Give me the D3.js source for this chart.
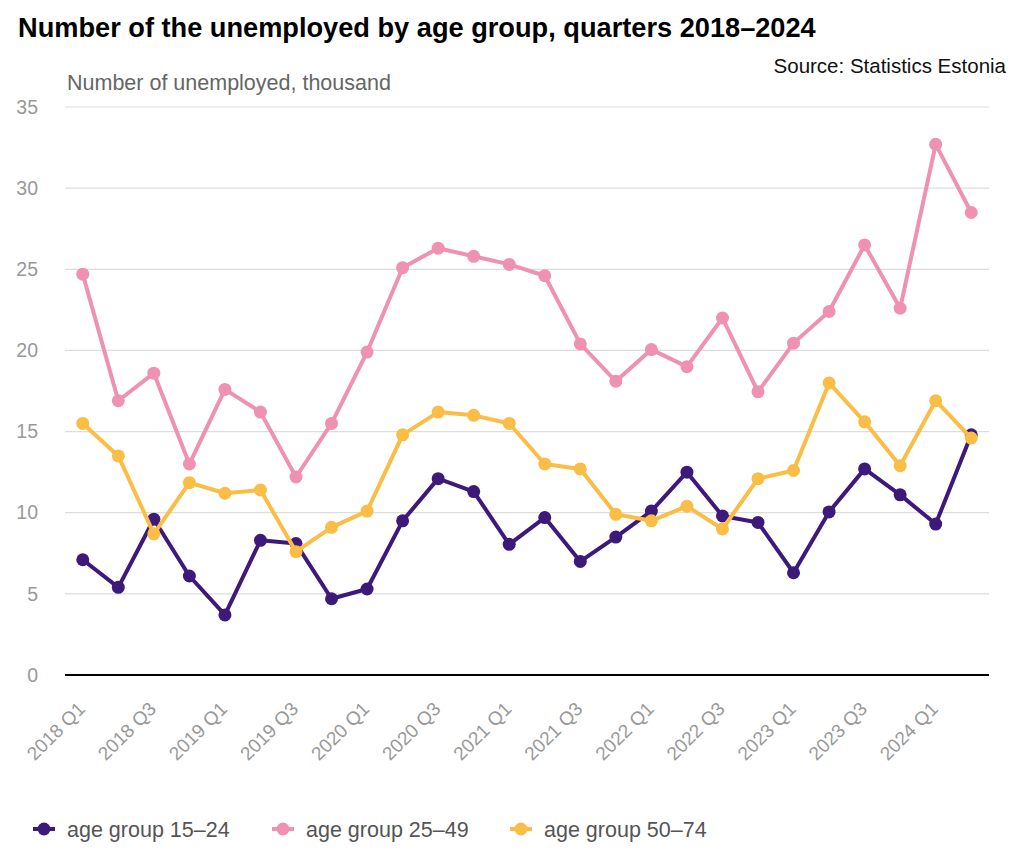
<!DOCTYPE html>
<meta charset="utf-8">
<head>
    <title>Unemployed by age group</title>
    <style>
        body { margin: 0; background: #fff; font-family: "Liberation Sans", Arial, sans-serif; }
    </style>
</head>

<script src="https://d3js.org/d3.v7.min.js"></script>

<div id="dataVis"></div>

<script>

    // quarters on the x axis
    var quarters = [
        "2018 Q1", "2018 Q2", "2018 Q3", "2018 Q4",
        "2019 Q1", "2019 Q2", "2019 Q3", "2019 Q4",
        "2020 Q1", "2020 Q2", "2020 Q3", "2020 Q4",
        "2021 Q1", "2021 Q2", "2021 Q3", "2021 Q4",
        "2022 Q1", "2022 Q2", "2022 Q3", "2022 Q4",
        "2023 Q1", "2023 Q2", "2023 Q3", "2023 Q4",
        "2024 Q1", "2024 Q2"
    ];

    // thousands of unemployed
    var age15_24 = [7.1, 5.4, 9.6, 6.1, 3.7, 8.3, 8.1, 4.7, 5.3, 9.5, 12.1, 11.3, 8.05,
                    9.7, 7.0, 8.5, 10.1, 12.5, 9.8, 9.4, 6.3, 10.05, 12.7, 11.1, 9.3, 14.8];
    var age25_49 = [24.7, 16.9, 18.6, 13.0, 17.6, 16.2, 12.2, 15.5, 19.9, 25.1, 26.3, 25.8, 25.3,
                    24.6, 20.4, 18.1, 20.05, 19.0, 22.0, 17.45, 20.45, 22.4, 26.5, 22.6, 32.7, 28.5];
    var age50_74 = [15.5, 13.5, 8.7, 11.85, 11.2, 11.4, 7.6, 9.1, 10.1, 14.8, 16.2, 16.0, 15.5,
                    13.0, 12.7, 9.9, 9.5, 10.4, 9.0, 12.1, 12.6, 18.0, 15.6, 12.9, 16.9, 14.6];

    var seriesNames = ["age group 15–24", "age group 25–49", "age group 50–74"];
    var seriesColors = ["#3d1a7a", "#ef91b1", "#fabd45"];
    var yTicks = [0, 5, 10, 15, 20, 25, 30, 35];

    var series = [age15_24, age25_49, age50_74];

    var width = 1024, height = 853;
    var plot = { left: 65, right: 989, top: 107, bottom: 675 };

    var svg = d3.select("#dataVis")
        .append("svg")
        .attr("width", width)
        .attr("height", height);

    var x = d3.scalePoint()
        .domain(quarters)
        .range([plot.left, plot.right])
        .padding(0.5);

    var y = d3.scaleLinear()
        .domain([0, 35])
        .range([plot.bottom, plot.top]);

    // title + source
    svg.append("text")
        .attr("x", 18).attr("y", 37)
        .style("font-size", "27.2px").style("font-weight", "bold")
        .style("fill", "#000")
        .text("Number of the unemployed by age group, quarters 2018–2024");

    svg.append("text")
        .attr("x", 1006).attr("y", 73)
        .attr("text-anchor", "end")
        .style("font-size", "20.5px").style("fill", "#111")
        .text("Source: Statistics Estonia");

    svg.append("text")
        .attr("x", 67).attr("y", 90)
        .style("font-size", "21.5px").style("fill", "#666")
        .text("Number of unemployed, thousand");

    // gridlines
    svg.append("g")
        .selectAll("line")
        .data(yTicks.filter(function (d) { return d > 0; }))
        .enter()
        .append("line")
        .attr("x1", plot.left).attr("x2", plot.right)
        .attr("y1", function (d) { return y(d); })
        .attr("y2", function (d) { return y(d); })
        .attr("stroke", "#dddddd")
        .attr("stroke-width", 1.2);

    // y axis labels
    var yAxis = svg.append("g")
        .attr("transform", "translate(" + (plot.left - 27) + ",0)")
        .call(d3.axisLeft(y).tickValues(yTicks).tickSize(0).tickPadding(0));
    yAxis.select(".domain").remove();
    yAxis.selectAll("text")
        .style("font-family", "Liberation Sans, Arial, sans-serif")
        .style("font-size", "19.5px").style("fill", "#999");

    // x axis
    var xAxis = svg.append("g")
        .attr("transform", "translate(0," + plot.bottom + ")")
        .call(d3.axisBottom(x)
            .tickValues(quarters.filter(function (d, i) { return i % 2 === 0; }))
            .tickSize(0));
    xAxis.select(".domain")
        .attr("d", "M" + plot.left + ",0H" + plot.right)
        .attr("stroke", "#000").attr("stroke-width", 2);
    xAxis.selectAll("text")
        .style("font-family", "Liberation Sans, Arial, sans-serif")
        .style("font-size", "19px").style("fill", "#999")
        .attr("text-anchor", "end")
        .attr("y", 0).attr("dy", 0)
        .attr("transform", "translate(3,35) rotate(-45)");

    // lines and dots
    var line = d3.line()
        .x(function (d, i) { return x(quarters[i]); })
        .y(function (d) { return y(d); });

    series.forEach(function (vals, k) {
        var g = svg.append("g");
        g.append("path")
            .datum(vals)
            .attr("fill", "none")
            .attr("stroke", seriesColors[k])
            .attr("stroke-width", 4)
            .attr("stroke-linejoin", "round")
            .attr("d", line);
        g.selectAll("circle")
            .data(vals)
            .enter()
            .append("circle")
            .attr("cx", function (d, i) { return x(quarters[i]); })
            .attr("cy", function (d) { return y(d); })
            .attr("r", 6.5)
            .attr("fill", seriesColors[k]);
    });

    // legend
    var legendX = [33, 272, 510];
    var legend = svg.append("g")
        .selectAll("g")
        .data(seriesNames)
        .enter()
        .append("g")
        .attr("transform", function (d, i) { return "translate(" + legendX[i] + ",829)"; });
    legend.append("line")
        .attr("x1", 0).attr("x2", 22)
        .attr("stroke", function (d, i) { return seriesColors[i]; })
        .attr("stroke-width", 4);
    legend.append("circle")
        .attr("cx", 11).attr("r", 6.5)
        .attr("fill", function (d, i) { return seriesColors[i]; });
    legend.append("text")
        .attr("x", 34).attr("dy", "0.35em")
        .style("font-size", "21.5px").style("fill", "#555")
        .text(function (d) { return d; });

</script>
